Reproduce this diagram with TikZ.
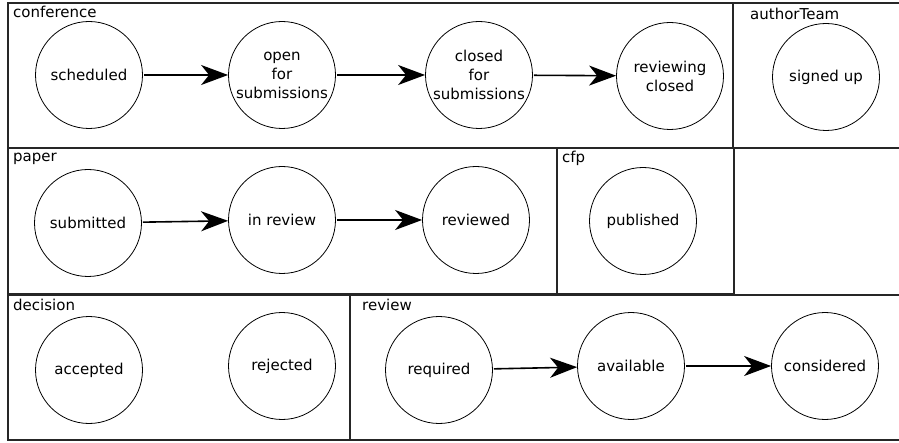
\documentclass[tikz,border=0pt]{standalone}
\usepackage{fontspec}
\setmainfont{DejaVu Sans}
\usetikzlibrary{arrows.meta}
\begin{document}
\begin{tikzpicture}[x=1pt,y=-1pt,
  lane/.style={draw=black!85, line width=1.4pt},
  lanelabel/.style={anchor=base west, inner sep=0pt, font=\fontsize{15}{19}\selectfont},
  state/.style={draw, circle, line width=0.8pt, minimum size=107pt, inner sep=0pt, align=center, font=\fontsize{15}{19}\selectfont},
  trans/.style={line width=1.6pt, -{Stealth[length=27pt,width=20pt,inset=8pt]}, shorten <=1pt}]
\useasboundingbox (0,0) rectangle (899,443);
% lanes
\draw[lane] (8,3) rectangle (733,148);
\draw[lane] (733,3) rectangle (903,148);
\draw[lane] (8,148) rectangle (557,294);
\draw[lane] (557,148) rectangle (734,294);
\draw[lane] (734,148) rectangle (903,295);
\draw[lane] (8,295) rectangle (350,440);
\draw[lane] (350,295) rectangle (903,440);
% lane labels
\node[lanelabel] (lconf) at (13,18) {conference};
\node[lanelabel] (lauth) at (750,20) {authorTeam};
\node[lanelabel] (lpaper) at (13,162) {paper};
\node[lanelabel] (lcfp) at (562,163) {cfp};
\node[lanelabel] (ldec) at (13,311) {decision};
\node[lanelabel] (lrev) at (362,311) {review};
% states
\node[state] (sched) at (89,75) {scheduled};
\node[state] (open) at (282,75) {open\\for\\submissions};
\node[state] (closed) at (479,75) {closed\\for\\submissions};
\node[state] (revclosed) at (670,76) {reviewing\\closed};
\node[state] (signed) at (826,77) {signed up};
\node[state] (subm) at (88,223) {submitted};
\node[state] (inrev) at (282,220) {in review};
\node[state] (reviewed) at (476,220) {reviewed};
\node[state] (publ) at (643,221) {published};
\node[state] (acc) at (89,370) {accepted};
\node[state] (rej) at (282,366) {rejected};
\node[state] (req) at (439,370) {required};
\node[state] (avail) at (631,366) {available};
\node[state] (cons) at (825,366) {considered};
% transitions
\draw[trans] (sched) -- (open);
\draw[trans] (open) -- (closed);
\draw[trans] (closed) -- (revclosed);
\draw[trans] (subm) -- (inrev);
\draw[trans] (inrev) -- (reviewed);
\draw[trans] (req) -- (avail);
\draw[trans] (avail) -- (cons);
\end{tikzpicture}
\end{document}
